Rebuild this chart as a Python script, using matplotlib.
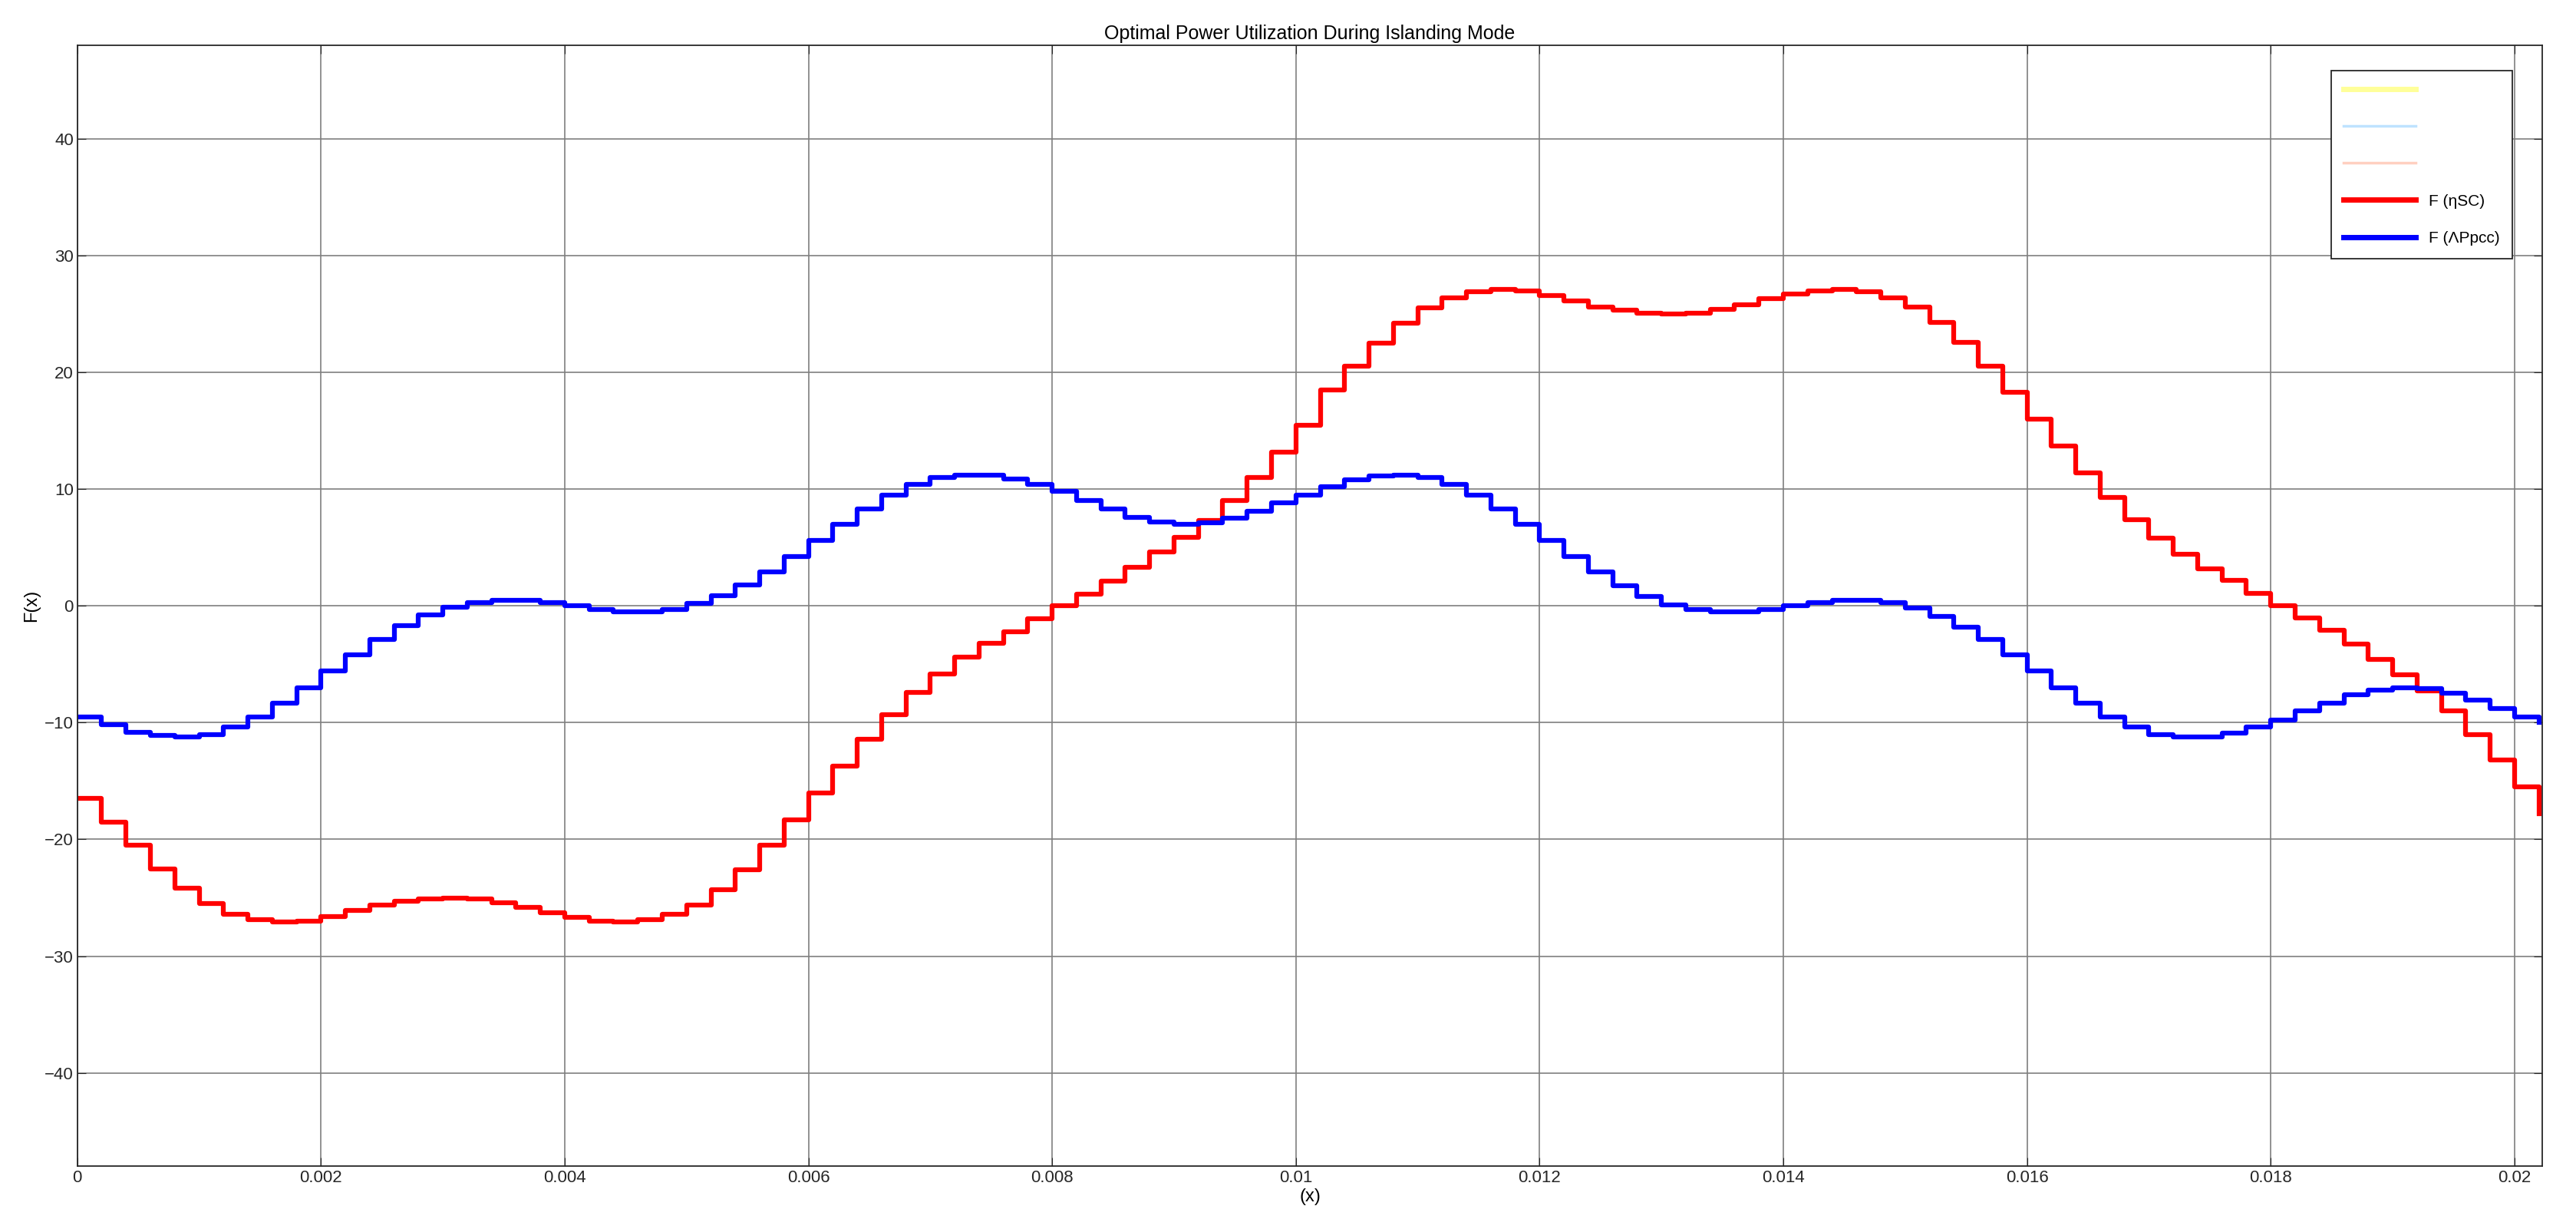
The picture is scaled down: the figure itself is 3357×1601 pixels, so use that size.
import numpy as np
import matplotlib.pyplot as plt
from matplotlib.lines import Line2D
from matplotlib.ticker import FormatStrFormatter

# sample times, 0.0002 s apart (0 ... 0.0202)
t = np.arange(102) * 0.0002

f_eta_sc = [
    -16.5, -18.5, -20.5, -22.5, -24.2, -25.5, -26.4, -26.9, -27.1, -27.0,
    -26.6, -26.1, -25.6, -25.3, -25.1, -25.0, -25.1, -25.4, -25.8, -26.3,
    -26.7, -27.0, -27.1, -26.9, -26.4, -25.6, -24.3, -22.6, -20.5, -18.3,
    -16.0, -13.7, -11.4, -9.3, -7.4, -5.8, -4.4, -3.2, -2.2, -1.1,
    0.0, 1.0, 2.1, 3.3, 4.6, 5.9, 7.3, 9.0, 11.0, 13.2,
    15.5, 18.5, 20.5, 22.5, 24.2, 25.5, 26.4, 26.9, 27.1, 27.0,
    26.6, 26.1, 25.6, 25.3, 25.1, 25.0, 25.1, 25.4, 25.8, 26.3,
    26.7, 27.0, 27.1, 26.9, 26.4, 25.6, 24.3, 22.6, 20.5, 18.3,
    16.0, 13.7, 11.4, 9.3, 7.4, 5.8, 4.4, 3.2, 2.2, 1.1,
    0.0, -1.0, -2.1, -3.3, -4.6, -5.9, -7.3, -9.0, -11.0, -13.2,
    -15.5, -17.8,
]

f_dp_pcc = [
    -9.5, -10.2, -10.8, -11.1, -11.2, -11.0, -10.4, -9.5, -8.3, -7.0,
    -5.6, -4.2, -2.9, -1.7, -0.8, -0.1, 0.3, 0.5, 0.5, 0.3,
    0.0, -0.3, -0.5, -0.5, -0.3, 0.2, 0.9, 1.8, 2.9, 4.2,
    5.6, 7.0, 8.3, 9.5, 10.4, 11.0, 11.2, 11.2, 10.9, 10.4,
    9.8, 9.0, 8.3, 7.6, 7.2, 7.0, 7.1, 7.5, 8.1, 8.8,
    9.5, 10.2, 10.8, 11.1, 11.2, 11.0, 10.4, 9.5, 8.3, 7.0,
    5.6, 4.2, 2.9, 1.7, 0.8, 0.1, -0.3, -0.5, -0.5, -0.3,
    0.0, 0.3, 0.5, 0.5, 0.3, -0.2, -0.9, -1.8, -2.9, -4.2,
    -5.6, -7.0, -8.3, -9.5, -10.4, -11.0, -11.2, -11.2, -10.9, -10.4,
    -9.8, -9.0, -8.3, -7.6, -7.2, -7.0, -7.1, -7.5, -8.1, -8.8,
    -9.5, -10.0,
]

xticks = [0, 0.002, 0.004, 0.006, 0.008, 0.01, 0.012, 0.014, 0.016, 0.018, 0.02]
yticks = [-40, -30, -20, -10, 0, 10, 20, 30, 40]

plt.rcParams['font.family'] = ['Liberation Sans', 'DejaVu Sans']
fig = plt.figure(figsize=(33.57, 16.01), dpi=100)
ax = fig.add_axes([0.030, 0.051, 0.957, 0.912])

ax.plot(t, f_eta_sc, color='#ff0000', lw=4.5, drawstyle='steps-post')
ax.plot(t, f_dp_pcc, color='#0000ff', lw=4.5, drawstyle='steps-post')

ax.set_xlim(0, 0.02023)
ax.set_ylim(-48, 48)
ax.set_xticks(xticks)
ax.set_yticks(yticks)
ax.xaxis.set_major_formatter(FormatStrFormatter('%g'))
ax.tick_params(direction='in', labelsize=16, colors='#262626', length=8, top=True, right=True)
ax.grid(True, color='#7f7f7f', lw=1.2)
for s in ax.spines.values():
    s.set_color('#262626')
    s.set_linewidth(1.3)

ax.set_title('Optimal Power Utilization During Islanding Mode', fontsize=18, color='#000000', pad=6)
ax.set_xlabel('(x)', fontsize=17, labelpad=2)
ax.set_ylabel('F(x)', fontsize=17, labelpad=4)

handles = [
    Line2D([], [], color='#ffff99', lw=5),
    Line2D([], [], color='#bfe3ff', lw=2.5),
    Line2D([], [], color='#ffd0c0', lw=2.5),
    Line2D([], [], color='#ff0000', lw=5),
    Line2D([], [], color='#0000ff', lw=5),
]
labels = ['', '', '', 'F (\u03b7SC)', 'F (\u039bPpcc)']
leg = ax.legend(handles, labels, loc='upper right', bbox_to_anchor=(0.991, 0.985),
                fontsize=15, fancybox=False, edgecolor='#262626', framealpha=1,
                handlelength=4.5, labelspacing=1.4, borderpad=0.8)
leg.get_frame().set_linewidth(1.3)

fig.savefig('out.png', dpi=100, facecolor='white')
